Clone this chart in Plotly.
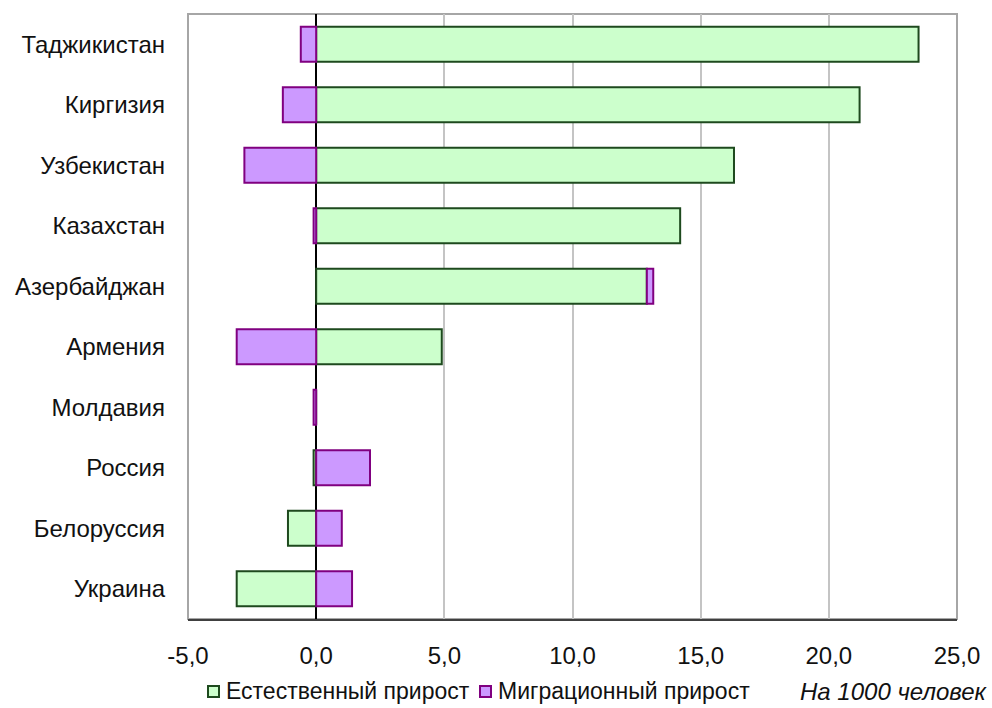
import plotly.graph_objects as go

# Population growth components, per 1000 people
countries = ["Таджикистан", "Киргизия", "Узбекистан", "Казахстан", "Азербайджан",
             "Армения", "Молдавия", "Россия", "Белоруссия", "Украина"]
natural_growth = [23.5, 21.2, 16.3, 14.2, 12.9, 4.9, 0.0, -0.1, -1.1, -3.1]
migration_growth = [-0.6, -1.3, -2.8, -0.1, 0.25, -3.1, -0.1, 2.1, 1.0, 1.4]
series_names = ["Естественный прирост", "Миграционный прирост"]

tick_values = [-5, 0, 5, 10, 15, 20, 25]
tick_labels = ["-5,0", "0,0", "5,0", "10,0", "15,0", "20,0", "25,0"]

FONT = "Liberation Sans, Arial, sans-serif"
TEXT = "#111111"
FILLS = ["#CCFFCC", "#CC99FF"]
EDGES = ["#1E4A1E", "#800080"]

W, H = 992, 708
M = dict(l=188, r=35, t=14, b=89)
PW, PH = W - M["l"] - M["r"], H - M["t"] - M["b"]


def px_x(px):
    return (px - M["l"]) / PW


def px_y(py):
    return (H - M["b"] - py) / PH


fig = go.Figure()
for name, values, fill, edge in zip(series_names, [natural_growth, migration_growth], FILLS, EDGES):
    fig.add_trace(go.Bar(
        y=countries, x=values, orientation="h", name=name,
        marker=dict(color=fill, line=dict(color=edge, width=2)),
        showlegend=False,
    ))

# Legend drawn as small square swatches followed by labels
shapes = [dict(
    type="rect", xref="paper", yref="paper", x0=0, x1=1, y0=0, y1=1,
    line=dict(color="#A6A6A6", width=2), layer="below",
)]
annotations = []
legend_x = [(208, 224), (480, 496)]
for (sx, tx), name, fill, edge in zip(legend_x, series_names, FILLS, EDGES):
    shapes.append(dict(
        type="rect", xref="paper", yref="paper",
        x0=px_x(sx), x1=px_x(sx + 11), y0=px_y(697), y1=px_y(686),
        fillcolor=fill, line=dict(color=edge, width=2),
    ))
    annotations.append(dict(
        text=name, xref="paper", yref="paper", x=px_x(tx), y=px_y(691),
        xanchor="left", yanchor="middle", showarrow=False,
        font=dict(family=FONT, size=23, color=TEXT),
    ))
annotations.append(dict(
    text="<i>На 1000 человек</i>", xref="paper", yref="paper",
    x=px_x(990), y=px_y(691), xanchor="right", yanchor="middle",
    showarrow=False, font=dict(family=FONT, size=24, color=TEXT),
))

fig.update_layout(
    width=W, height=H,
    margin=dict(**M, autoexpand=False),
    paper_bgcolor="white", plot_bgcolor="white",
    barmode="relative", bargap=0.42,
    font=dict(family=FONT, size=24, color=TEXT),
    xaxis=dict(
        range=[-5, 25], tickvals=tick_values, ticktext=tick_labels,
        showgrid=True, gridcolor="#C4C4C4", gridwidth=2,
        zeroline=True, zerolinecolor="#000000", zerolinewidth=2,
        showline=True, linecolor="#404040", linewidth=2,
        ticks="", ticklabelstandoff=14, fixedrange=True,
    ),
    yaxis=dict(
        autorange="reversed", showgrid=False, zeroline=False,
        showline=False, ticks="", ticklabelstandoff=22,
    ),
    shapes=shapes,
    annotations=annotations,
)

fig.write_html("out.html")
